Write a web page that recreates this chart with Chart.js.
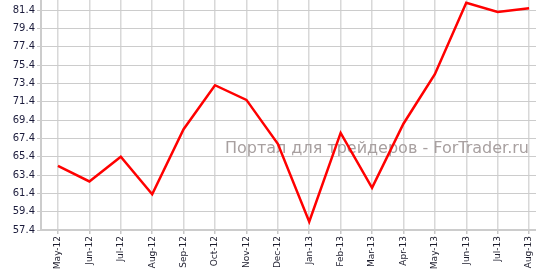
<!DOCTYPE html>
<html><head><meta charset="utf-8">
<script src="https://cdn.jsdelivr.net/npm/chart.js@4/dist/chart.umd.min.js"></script>
<style>html,body{margin:0;padding:0;background:#fff;}#wrap{position:relative;width:536px;height:273px;}</style>
</head><body>
<div id="wrap"><canvas id="c" width="536" height="273"></canvas></div>
<script>
const categories = ["May-12","Jun-12","Jul-12","Aug-12","Sep-12","Oct-12","Nov-12","Dec-12","Jan-13","Feb-13","Mar-13","Apr-13","May-13","Jun-13","Jul-13","Aug-13"];
const values = [64.4, 62.7, 65.4, 61.3, 68.4, 73.2, 71.6, 66.8, 58.3, 68.0, 62.0, 69.0, 74.4, 82.2, 81.2, 81.6];
const yTicks = [57.4, 59.4, 61.4, 63.4, 65.4, 67.4, 69.4, 71.4, 73.4, 75.4, 77.4, 79.4, 81.4];
const watermark = "Портал для трейдеров - ForTrader.ru";

const wmPlugin = {
  id: 'wm',
  beforeDatasetsDraw(chart) {
    const ctx = chart.ctx;
    ctx.save();
    ctx.font = '16px "DejaVu Sans"';
    ctx.fillStyle = '#a8a0a0';
    ctx.textAlign = 'right';
    ctx.textBaseline = 'alphabetic';
    ctx.fillText(watermark, 529, 153);
    ctx.restore();
  }
};

function zeroPad(s) { s.paddingLeft = 0; s.paddingRight = 0; s.paddingTop = 0; s.paddingBottom = 0; }

new Chart(document.getElementById('c'), {
  type: 'line',
  data: {
    datasets: [{
      data: values.map((v, i) => ({x: i, y: v})),
      borderColor: '#ff0000',
      borderWidth: 2.5,
      pointRadius: 0,
      tension: 0,
      fill: false
    }]
  },
  plugins: [wmPlugin],
  options: {
    responsive: false,
    animation: false,
    layout: {padding: 0},
    plugins: {legend: {display: false}, tooltip: {enabled: false}},
    scales: {
      x: {
        type: 'linear',
        min: -0.54,
        max: 15.22,
        afterBuildTicks: s => { s.ticks = categories.map((c, i) => ({value: i})); },
        afterFit: s => { s.height = 43; zeroPad(s); },
        ticks: {
          callback: v => categories[v],
          minRotation: 90, maxRotation: 90,
          autoSkip: false,
          padding: 2,
          color: '#1c1c2c',
          font: {family: 'DejaVu Sans', size: 9}
        },
        grid: {color: '#d8d8d8', lineWidth: 1.5, tickLength: 4, tickColor: '#c8c8c8'},
        border: {color: '#cccccc', width: 2}
      },
      y: {
        min: 57.4,
        max: 82.5,
        afterBuildTicks: s => { s.ticks = yTicks.map(v => ({value: v})); },
        afterFit: s => { s.width = 41; zeroPad(s); },
        ticks: {
          callback: v => v.toFixed(1),
          padding: 2,
          color: '#1c1c3c',
          font: {family: 'DejaVu Sans', size: 10}
        },
        grid: {color: '#cccccc', lineWidth: 1, tickLength: 4, tickColor: '#c8c8c8'},
        border: {color: '#cccccc', width: 2}
      }
    }
  }
});
</script>
</body></html>
